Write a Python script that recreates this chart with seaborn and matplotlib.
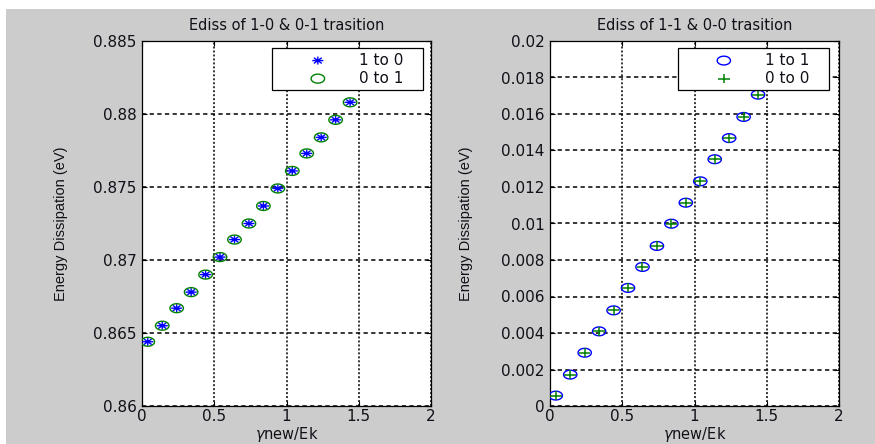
import numpy as np
import matplotlib
matplotlib.use("Agg")
import matplotlib.pyplot as plt
from matplotlib.path import Path
from matplotlib.patches import Rectangle
from matplotlib.ticker import FuncFormatter
import seaborn as sns

# ---------------- data ----------------
gamma_ratio = [0.04, 0.14, 0.24, 0.34, 0.44, 0.54, 0.64, 0.74,
               0.84, 0.94, 1.04, 1.14, 1.24, 1.34, 1.44]
ediss_1to0 = [0.8644, 0.8655, 0.8667, 0.8678, 0.8690, 0.8702, 0.8714, 0.8725,
              0.8737, 0.8749, 0.8761, 0.8773, 0.8784, 0.8796, 0.8808]
ediss_0to1 = [0.8644, 0.8655, 0.8667, 0.8678, 0.8690, 0.8702, 0.8714, 0.8725,
              0.8737, 0.8749, 0.8761, 0.8773, 0.8784, 0.8796, 0.8808]
ediss_1to1 = [0.00057, 0.00172, 0.00292, 0.00409, 0.00524, 0.00647, 0.00762,
              0.00877, 0.00999, 0.01114, 0.01231, 0.01352, 0.01468, 0.01584,
              0.01706]
ediss_0to0 = [0.00057, 0.00172, 0.00292, 0.00409, 0.00524, 0.00647, 0.00762,
              0.00877, 0.00999, 0.01114, 0.01231, 0.01352, 0.01468, 0.01584,
              0.01706]

x_ticks = [0, 0.5, 1, 1.5, 2]
left_yticks = [0.86, 0.865, 0.87, 0.875, 0.88, 0.885]
right_yticks = [0, 0.002, 0.004, 0.006, 0.008, 0.01, 0.012, 0.014, 0.016,
                0.018, 0.02]

titles = ["Ediss of 1-0 & 0-1 trasition", "Ediss of 1-1 & 0-0 trasition"]
ylabel = "Energy Dissipation (eV)"
xlabel = r"$\mathit{\gamma}$new/Ek"

# ---------------- styling ----------------
sns.set_style("ticks")
plt.rcParams["font.family"] = ["DejaVu Sans"]
plt.rcParams["lines.scale_dashes"] = True

GRAY = "#cccccc"
BLUE = "#0000ff"
GREEN = "#008000"
TXT = "#101018"


def ellipse_path(ratio=0.66, n=40):
    t = np.linspace(0, 2 * np.pi, n)
    v = np.column_stack([np.cos(t), ratio * np.sin(t)])
    return Path(v, closed=True)


def asterisk_path(ratio=0.72):
    d = [(1, 0), (0, 1), (0.7071, 0.7071), (0.7071, -0.7071)]
    verts, codes = [], []
    for dx, dy in d:
        verts += [(-dx, -dy * ratio), (dx, dy * ratio)]
        codes += [Path.MOVETO, Path.LINETO]
    return Path(verts, codes)


def plus_path(ratio=0.78):
    verts = [(-1, 0), (1, 0), (0, -ratio), (0, ratio)]
    codes = [Path.MOVETO, Path.LINETO, Path.MOVETO, Path.LINETO]
    return Path(verts, codes)


fig = plt.figure(figsize=(8.75, 4.44), dpi=100)
fig.patch.set_facecolor(GRAY)
fig.patches.append(Rectangle((0, 1 - 9 / 444), 1, 9 / 444, transform=fig.transFigure,
                             facecolor="white", edgecolor="none", zorder=-1))
fig.patches.append(Rectangle((0, 0), 6 / 875, 1, transform=fig.transFigure,
                             facecolor="white", edgecolor="none", zorder=-1))

W, H = 875, 444
ax_l = fig.add_axes([142 / W, 1 - 406 / H, 289 / W, 365 / H])
ax_r = fig.add_axes([550 / W, 1 - 406 / H, 289 / W, 365 / H])

# left panel
sns.scatterplot(x=gamma_ratio, y=ediss_1to0, ax=ax_l, marker=asterisk_path(),
                s=64, facecolor="none", edgecolor=BLUE, linewidth=1.0,
                label="1 to 0", zorder=3)
sns.scatterplot(x=gamma_ratio, y=ediss_0to1, ax=ax_l, marker=ellipse_path(),
                s=95, facecolor="none", edgecolor=GREEN, linewidth=1.0,
                label="0 to 1", zorder=3)

# right panel
sns.scatterplot(x=gamma_ratio, y=ediss_1to1, ax=ax_r, marker=ellipse_path(),
                s=92, facecolor="none", edgecolor=BLUE, linewidth=1.0,
                label="1 to 1", zorder=3)
sns.scatterplot(x=gamma_ratio, y=ediss_0to0, ax=ax_r, marker=plus_path(),
                s=70, facecolor="none", edgecolor=GREEN, linewidth=1.1,
                label="0 to 0", zorder=4)

fmt = FuncFormatter(lambda v, p: "%g" % round(v, 6))

for ax, yt, title, lx0, lpad in [(ax_l, left_yticks, titles[0], 130 / 289, 18),
                                 (ax_r, right_yticks, titles[1], 128 / 289, 20)]:
    ax.set_facecolor("white")
    ax.set_xlim(x_ticks[0], x_ticks[-1])
    ax.set_ylim(yt[0], yt[-1])
    ax.set_xticks(x_ticks)
    ax.set_yticks(yt)
    ax.xaxis.set_major_formatter(fmt)
    ax.yaxis.set_major_formatter(fmt)
    ax.set_axisbelow(True)
    ax.yaxis.grid(True, color="black", linestyle=(0, (2.8, 2.2)), linewidth=1.1)
    ax.xaxis.grid(True, color="black", linestyle=(0, (1.3, 1.3)), linewidth=1.1)
    for sp in ax.spines.values():
        sp.set_visible(True)
        sp.set_color("black")
        sp.set_linewidth(0.9)
    ax.tick_params(direction="in", length=3.5, width=0.8, top=True, right=True,
                   labelsize=11, labelcolor=TXT, pad=4, color="black")
    ax.tick_params(axis="x", pad=2.5)
    ax.set_title(title, fontsize=10.5, color=TXT, pad=8)
    ax.set_ylabel(ylabel, family=["Liberation Sans Narrow", "Liberation Sans", "DejaVu Sans"],
                  fontsize=10.5, color=TXT, labelpad=lpad)
    ax.set_xlabel(xlabel, fontsize=10.5, color=TXT, labelpad=0.3)
    leg = ax.legend(loc="upper left", bbox_to_anchor=(lx0, 0.5, 151 / 289, 1 - 7 / 365 - 0.5),
                    mode="expand", borderaxespad=0, fontsize=11, frameon=True,
                    fancybox=False, framealpha=1, edgecolor="black",
                    borderpad=0.3, labelspacing=0.2, handlelength=5.4,
                    handletextpad=0.0, scatterpoints=1)
    leg.get_frame().set_linewidth(0.9)
    for t in leg.get_texts():
        t.set_color(TXT)

fig.savefig("out.png", dpi=100, facecolor=fig.get_facecolor())
